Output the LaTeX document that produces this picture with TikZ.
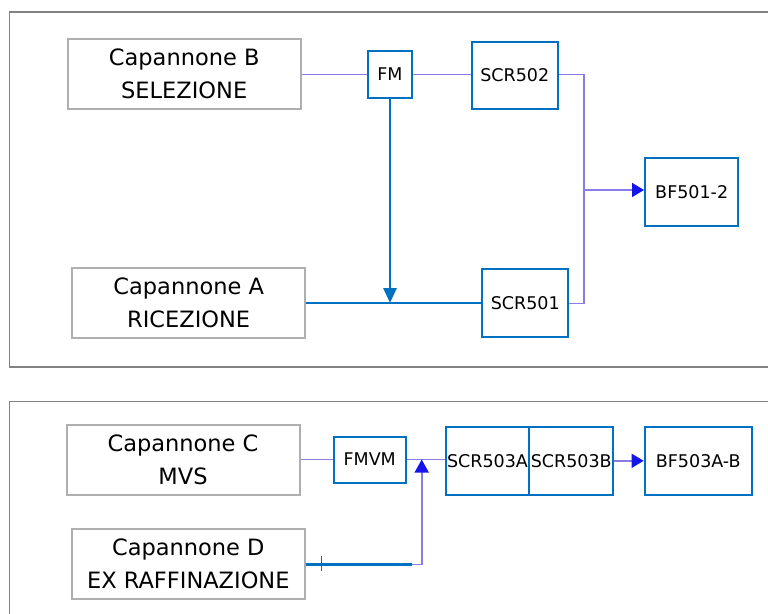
\documentclass[tikz,border=0pt]{standalone}
\usepackage{fontspec}
\setmainfont{DejaVu Sans}
\usetikzlibrary{arrows.meta}
\definecolor{shedgray}{RGB}{175,175,175}
\definecolor{framegray}{RGB}{130,130,130}
\definecolor{unitblue}{RGB}{0,112,192}
\definecolor{flowviolet}{RGB}{135,125,228}
\definecolor{tipblue}{RGB}{20,20,235}
\tikzstyle{shed}=[draw=shedgray, line width=2pt, minimum width=233pt, minimum height=70pt, align=center, inner sep=0pt, font=\fontsize{22.5}{33}\selectfont]
\tikzstyle{unit}=[draw=unitblue, line width=2pt, inner sep=0pt, font=\fontsize{17.5}{21}\selectfont]
\tikzstyle{flow}=[draw=flowviolet, line width=1.6pt]
\tikzstyle{feed}=[draw=unitblue, line width=2.8pt]
\tikzstyle{panel}=[draw=framegray, line width=1.6pt]
\tikzstyle{bluetip}=[-{Triangle[length=12pt, width=14pt, color=tipblue]}]
\begin{document}
\begin{tikzpicture}[x=1pt, y=-1pt]
            \useasboundingbox (0,0) rectangle (768,613);
            \draw[panel] (775,12) -- (9.5,12) -- (9.5,367) -- (775,367);
            \draw[panel] (775,401.5) -- (9.5,401.5) -- (9.5,620);

            % upper panel
            \node[shed] (capB) at (184.2,74.3) {Capannone B\\SELEZIONE};
            \node[unit, minimum width=44.6pt, minimum height=46.7pt] (fm) at (390,74.3) {FM};
            \node[unit, minimum width=86.3pt, minimum height=67pt] (scr502) at (514.8,75.5) {SCR502};
            \node[unit, minimum width=93.3pt, minimum height=67.7pt] (bf501) at (691.7,192.2) {BF501-2};
            \node[shed] (capA) at (188.7,303) {Capannone A\\RICEZIONE};
            \node[unit, minimum width=86pt, minimum height=68pt] (scr501) at (525.3,303.3) {SCR501};

            \coordinate (jr) at (584,190);
            \draw[flow] (capB.east) -- (fm.west);
            \draw[flow] (fm.east) -- (fm.east -| scr502.west);
            \draw[flow] (scr502.east |- fm.east) -| (jr) |- (scr501.east);
            \draw[flow, bluetip] (jr) -- (jr -| bf501.west);
            \draw[feed] (capA.east) -- (scr501.west |- capA.east);
            \draw[feed, -{Triangle[length=15pt, width=13pt]}] (fm.south) -- (fm.south |- capA.east);

            % lower panel
            \node[shed] (capC) at (183,459.5) {Capannone C\\MVS};
            \node[unit, minimum width=72pt, minimum height=46pt] (fmvm) at (369.7,459.5) {FMVM};
            \node[unit, minimum width=83.6pt, minimum height=67.7pt] (scr503a) at (487.5,460.8) {SCR503A};
            \node[unit, minimum width=84pt, minimum height=67.7pt] (scr503b) at (571.3,460.8) {SCR503B};
            \node[unit, minimum width=107.3pt, minimum height=67.7pt] (bf503) at (698.3,460.8) {BF503A-B};
            \node[shed] (capD) at (188.3,564.3) {Capannone D\\EX RAFFINAZIONE};

            \coordinate (jm) at (412,564.3);
            \coordinate (jb) at (421.7,564.3);
            \coordinate (tk) at (321,564.3);
            \draw[flow] (capC.east) -- (fmvm.west);
            \draw[flow] (fmvm.east) -- (fmvm.east -| scr503a.west);
            \draw[feed] (capD.east) -- (jm);
            \draw[flow, -{Triangle[length=13pt, width=14pt, color=tipblue]}] (jm) -- (jb) -- (jb |- fmvm.east);
            \draw[unitblue, line width=1pt] ([yshift=8pt]tk) -- ([yshift=-7pt]tk);
            \draw[flow, bluetip] (scr503b.east) -- (bf503.west);
\end{tikzpicture}
\end{document}
